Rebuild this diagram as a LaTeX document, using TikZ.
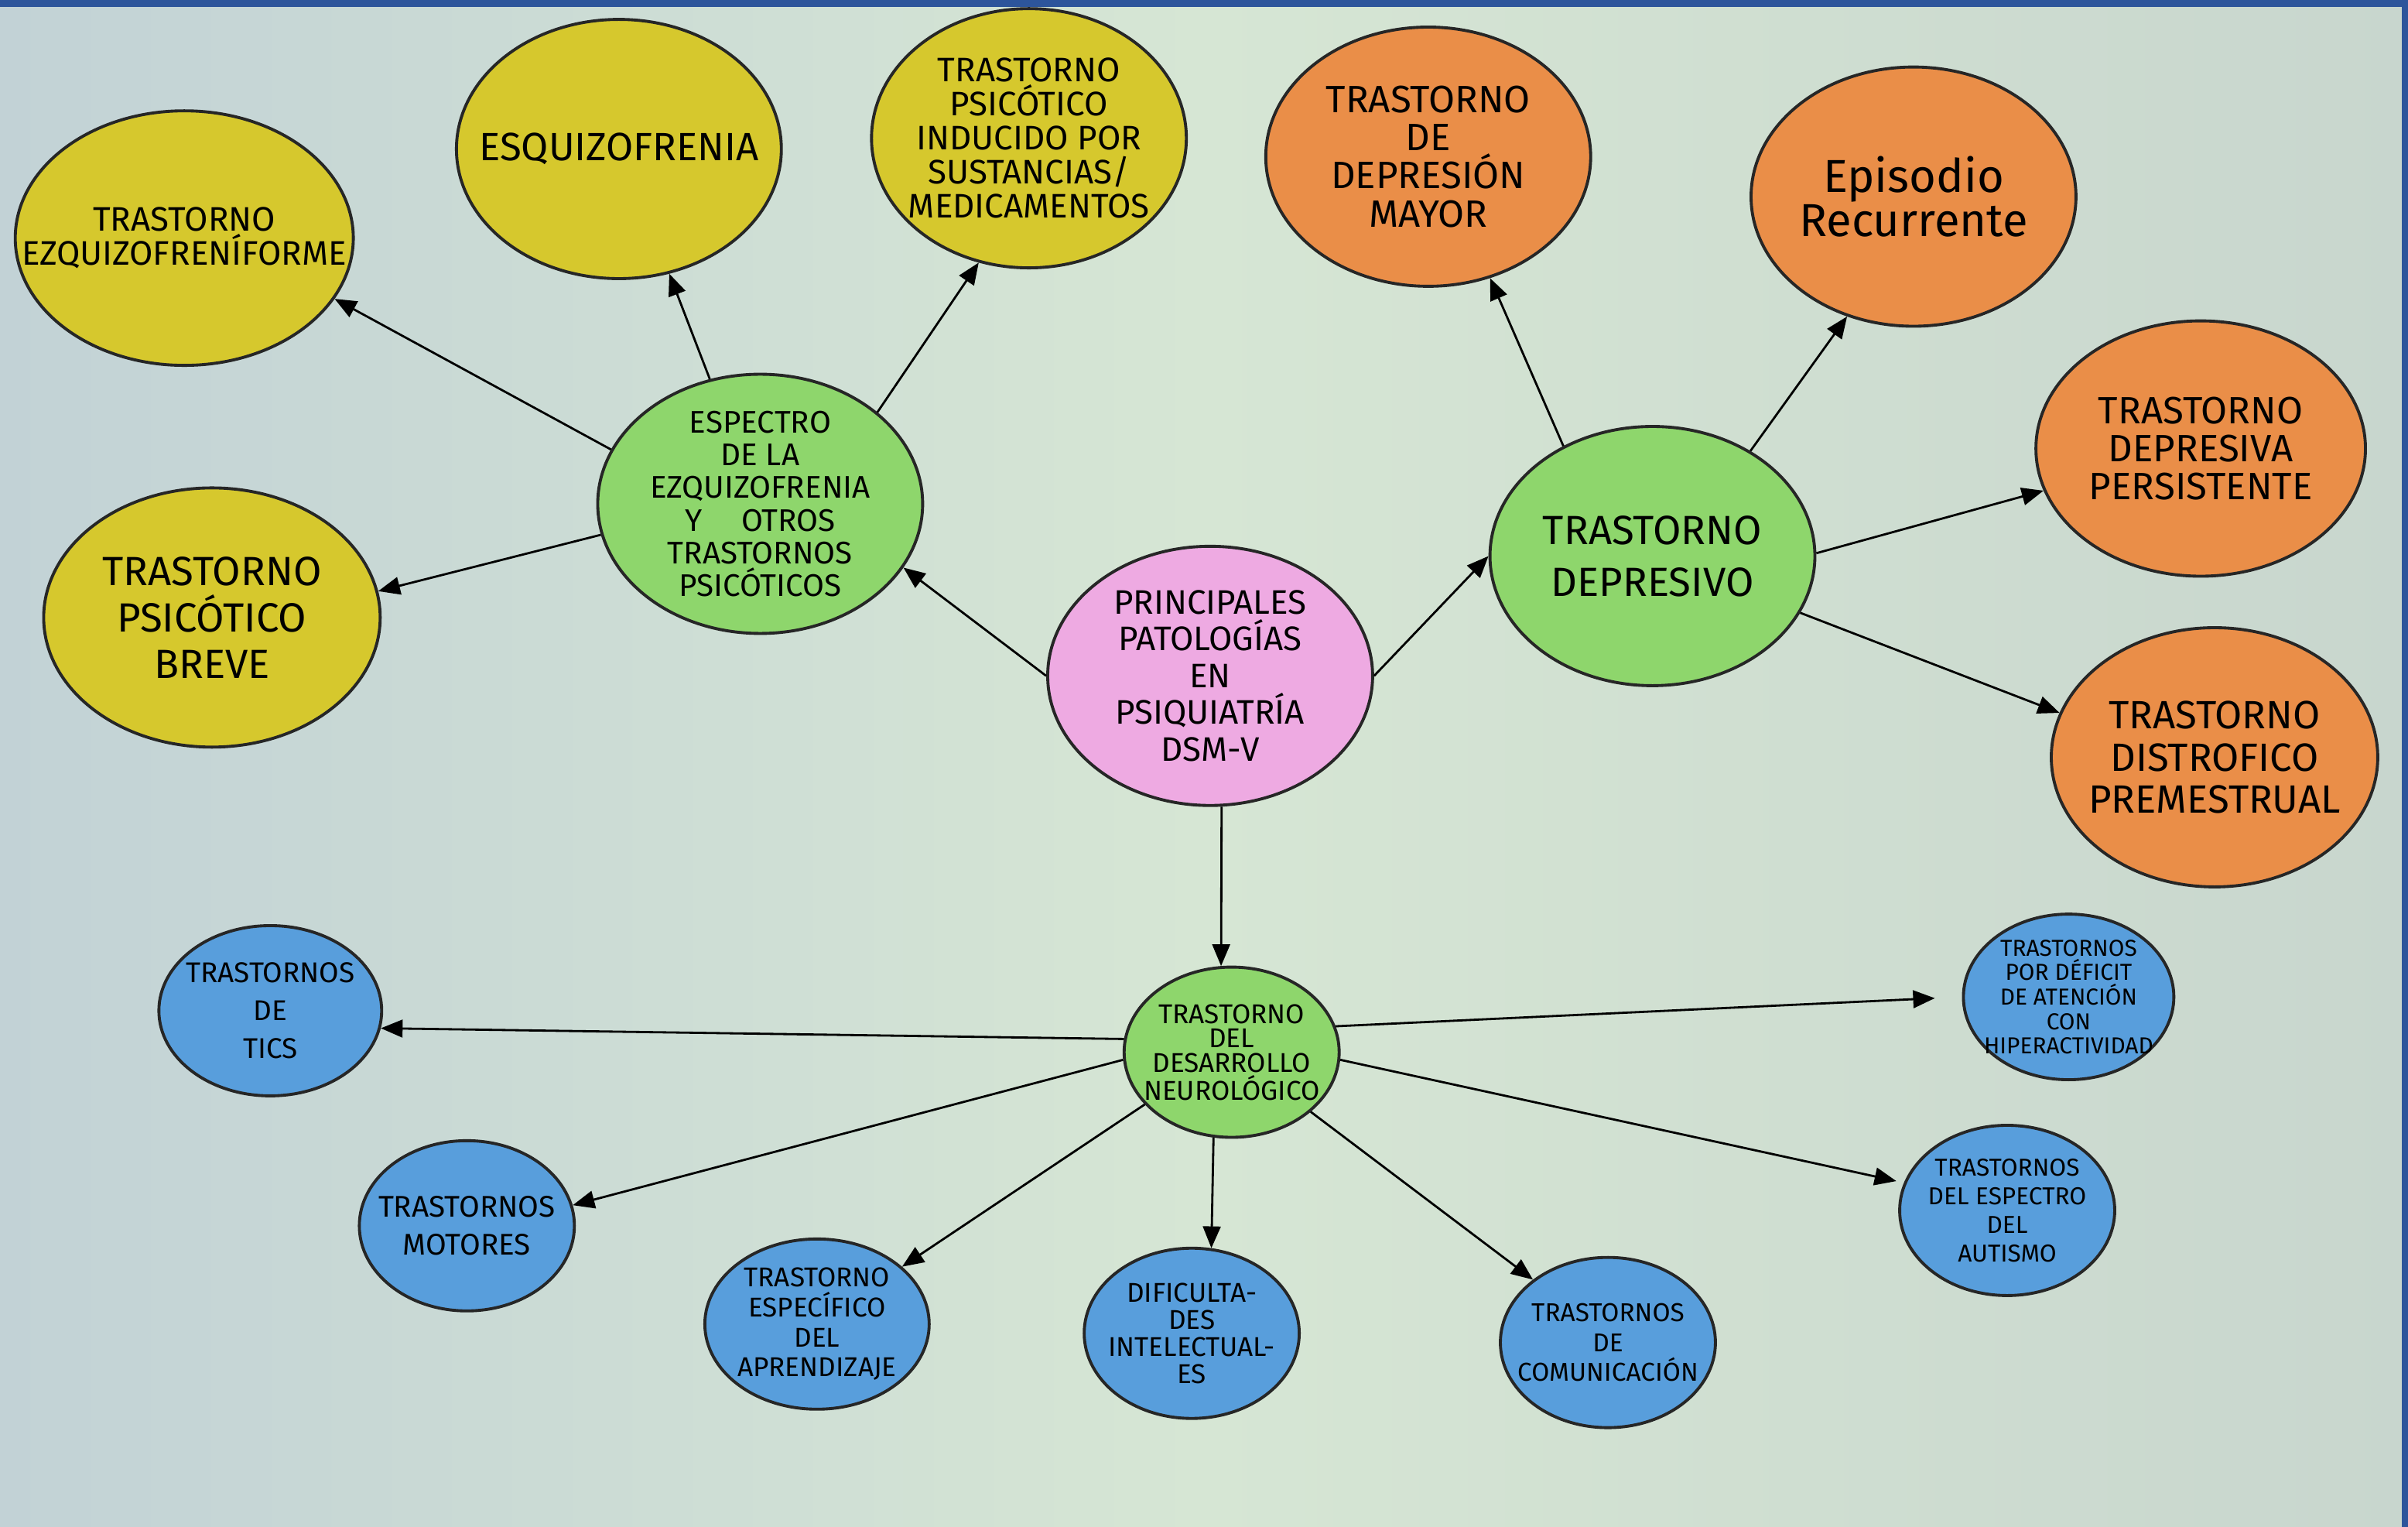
\documentclass[tikz,border=0pt]{standalone}
\usepackage{fontspec}
\setmainfont{Fira Sans}
\usetikzlibrary{shapes.geometric, arrows.meta}
\definecolor{paperL}{RGB}{194, 210, 214}
\definecolor{paperM}{RGB}{214, 230, 212}
\definecolor{paperR}{RGB}{200, 214, 206}
\definecolor{frameblue}{RGB}{45, 85, 155}
\definecolor{yell}{RGB}{214, 200, 45}
\definecolor{leaf}{RGB}{142, 214, 108}
\definecolor{rosa}{RGB}{238, 170, 226}
\definecolor{naranja}{RGB}{234, 142, 72}
\definecolor{celeste}{RGB}{88, 158, 220}

\begin{document}
\begin{tikzpicture}[x=0.019847cm, y=-0.019847cm,
  big/.style={ellipse, draw=black!85, line width=1.1pt, fill=#1, minimum width=4.2cm, minimum height=3.35cm, inner xsep=-0.8cm, inner ysep=-0.4cm, align=center, font=\fontsize{14}{14}\selectfont},
  small/.style={ellipse, draw=black!85, line width=1.1pt, fill=#1, minimum width=2.78cm, minimum height=2.2cm, inner xsep=-0.6cm, inner ysep=-0.3cm, align=center, font=\fontsize{10}{11}\selectfont},
  arr/.style={-{Triangle[length=8pt, width=6.5pt]}, line width=0.8pt},
]
  % Paper
  \useasboundingbox (0,0) rectangle (1568,994);
  \shade[left color=paperL, right color=paperR, middle color=paperM] (0,0) rectangle (1568,994);
  \fill[frameblue] (0,0) rectangle (1568,4.5);
  \fill[frameblue] (1564,0) rectangle (1568,994);
  % Centre
  \node[big=rosa, font=\fontsize{12.5}{13.5}\selectfont] (pat) at (788,440) {PRINCIPALES\\PATOLOGÍAS\\EN\\PSIQUIATRÍA\\DSM-V};
  % Left branch
  \node[big=leaf, font=\fontsize{11.5}{12}\selectfont] (ezq) at (495,328) {ESPECTRO\\DE LA\\EZQUIZOFRENIA\\Y \quad OTROS\\TRASTORNOS\\PSICÓTICOS};
  \node[big=yell, minimum width=4.37cm, minimum height=3.29cm, font=\fontsize{12.5}{11.5}\selectfont] (frm) at (120,155) {TRASTORNO\\EZQUIZOFRENÍFORME};
  \node[big=yell, font=\fontsize{14.5}{15}\selectfont] (esq) at (403,97) {ESQUIZOFRENIA};
  \node[big=yell, minimum width=4.07cm, font=\fontsize{12.5}{12.5}\selectfont] (ind) at (670,90) {TRASTORNO\\PSICÓTICO\\INDUCIDO POR\\SUSTANCIAS/\\MEDICAMENTOS};
  \node[big=yell, minimum width=4.35cm, font=\fontsize{15}{17}\selectfont] (brv) at (138,402) {TRASTORNO\\PSICÓTICO\\BREVE};
  % Right branch
  \node[big=leaf, font=\fontsize{15}{19}\selectfont] (dep) at (1076,362) {TRASTORNO\\DEPRESIVO};
  \node[big=naranja] (may) at (930,102) {TRASTORNO\\DE\\DEPRESIÓN\\MAYOR};
  \node[big=naranja, font=\fontsize{17}{16}\selectfont] (epi) at (1246,128) {Episodio\\Recurrente};
  \node[big=naranja, minimum width=4.26cm, minimum height=3.3cm] (per) at (1433,292) {TRASTORNO\\DEPRESIVA\\PERSISTENTE};
  \node[big=naranja, minimum width=4.22cm, font=\fontsize{14.5}{15.5}\selectfont] (dis) at (1442,493) {TRASTORNO\\DISTROFICO\\PREMESTRUAL};
  % Bottom branch
  \node[small=leaf, font=\fontsize{10}{9}\selectfont] (neu) at (802,685) {TRASTORNO\\DEL\\DESARROLLO\\NEUROLÓGICO};
  \node[small=celeste, minimum width=2.88cm, font=\fontsize{10.5}{14}\selectfont] (tic) at (176,658) {TRASTORNOS\\DE\\TICS};
  \node[small=celeste, font=\fontsize{11}{14}\selectfont] (mot) at (304,798) {TRASTORNOS\\MOTORES};
  \node[small=celeste, minimum width=2.9cm] (apr) at (532,862) {TRASTORNO\\ESPECÍFICO\\DEL\\APRENDIZAJE};
  \node[small=celeste, font=\fontsize{10}{10}\selectfont] (dif) at (776,868) {DIFICULTA-\\DES\\INTELECTUAL-\\ES};
  \node[small=celeste, font=\fontsize{9.5}{11}\selectfont] (com) at (1047,874) {TRASTORNOS\\DE\\COMUNICACIÓN};
  \node[small=celeste, font=\fontsize{9}{10.5}\selectfont] (aut) at (1307,788) {TRASTORNOS\\DEL ESPECTRO\\DEL\\AUTISMO};
  \node[small=celeste, minimum width=2.72cm, minimum height=2.14cm, font=\fontsize{8.5}{9}\selectfont] (tda) at (1347,649) {TRASTORNOS\\POR DÉFICIT\\DE ATENCIÓN\\CON\\HIPERACTIVIDAD};
  % Arrows
  \draw[arr] (pat.180) -- (ezq.-24);
  \draw[arr] (pat.0) -- (dep.180);
  \draw[arr] (pat.-85) -- (neu.97);
  \draw[arr] (ezq.160) -- (frm.-22);
  \draw[arr] (ezq.112) -- (esq.-68);
  \draw[arr] (ezq.38) -- (ind.-112);
  \draw[arr] (ezq.-169) -- (brv.9);
  \draw[arr] (dep.129) -- (may.-63);
  \draw[arr] (dep.47) -- (epi.-119);
  \draw[arr] (dep.1) -- (per.-165);
  \draw[arr] (dep.-21) -- (dis.164);
  \draw[arr] (neu.173) -- (tic.-9);
  \draw[arr] (neu.184) -- (mot.11);
  \draw[arr] (neu.-149) -- (apr.34);
  \draw[arr] (neu.-102) -- (dif.77);
  \draw[arr] (neu.-37) -- (com.140);
  \draw[arr, shorten >=0.1cm] (neu.-4) -- (aut.165);
  \draw[arr, shorten >=0.35cm] (neu.14) -- (tda.180);
\end{tikzpicture}
\end{document}
